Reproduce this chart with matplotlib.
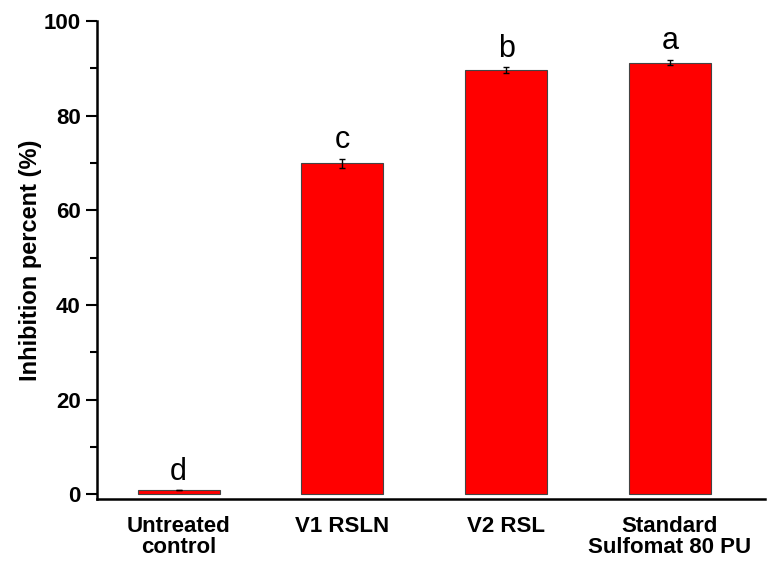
import numpy as np
import matplotlib.pyplot as plt
from matplotlib.ticker import MultipleLocator

categories = ['Untreated\ncontrol', 'V1 RSLN', 'V2 RSL', 'Standard\nSulfomat 80 PU']
values = [0.8, 69.9, 89.6, 91.2]
errors = [0.0, 1.0, 0.6, 0.5]
letters = ['d', 'c', 'b', 'a']

plt.rcParams['font.family'] = ['Liberation Sans', 'DejaVu Sans']

fig = plt.figure(figsize=(7.68, 5.67), dpi=100)
ax = fig.add_axes([0.126, 0.12, 0.870, 0.843])

x = np.arange(len(categories))
ax.bar(x, values, width=0.5, color='#ff0000', edgecolor='#444444', linewidth=0.8,
       yerr=errors, error_kw=dict(ecolor='black', elinewidth=1, capsize=2.5, capthick=1))

for xi, v, e, t in zip(x, values, errors, letters):
    ax.text(xi, v + e + 0.8, t, ha='center', va='bottom', fontsize=22)

ax.set_xlim(-0.5, 3.58)
ax.set_ylim(-1, 100)
ax.set_xticks(x)
ax.set_xticklabels(categories, fontsize=16, fontweight='bold', linespacing=1.0)
ax.tick_params(axis='x', length=0, pad=12)
ax.yaxis.set_major_locator(MultipleLocator(20))
ax.yaxis.set_minor_locator(MultipleLocator(10))
ax.tick_params(axis='y', which='major', length=8, width=1.5, labelsize=16)
ax.tick_params(axis='y', which='minor', length=5, width=1.5)
for lbl in ax.get_yticklabels():
    lbl.set_fontweight('bold')
ax.set_ylabel('Inhibition percent (%)', fontsize=17, fontweight='bold', labelpad=1)

ax.spines['top'].set_visible(False)
ax.spines['right'].set_visible(False)
ax.spines['left'].set_linewidth(1.8)
ax.spines['bottom'].set_linewidth(1.8)

plt.savefig('out.png', dpi=100)
